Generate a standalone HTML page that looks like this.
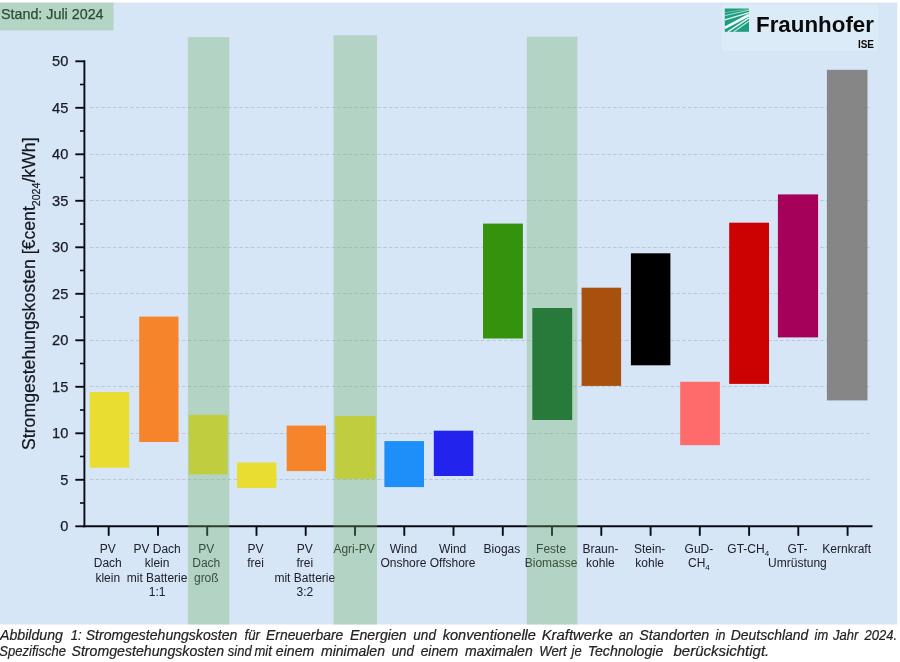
<!DOCTYPE html>
<html lang="de"><head><meta charset="utf-8"><title>Stromgestehungskosten</title>
<style>
html,body{margin:0;padding:0;background:#fff;}
body{width:900px;height:662px;overflow:hidden;position:relative;font-family:"Liberation Sans",sans-serif;}
svg{position:absolute;left:0;top:0;display:block;}
text{font-family:"Liberation Sans",sans-serif;}
</style></head><body>
<svg width="900" height="662" viewBox="0 0 900 662">
<rect x="0" y="0" width="900" height="662" fill="#ffffff"/>
<rect x="0" y="2.5" width="897.3" height="622" fill="#d6e6f6"/>

<rect x="0" y="2.7" width="113.6" height="27.8" fill="#b4d4c4"/>
<text x="1" y="19.4" font-size="14.3" fill="#2c4a3a" stroke="#2c4a3a" stroke-width="0.25">Stand: Juli 2024</text>
<rect x="722" y="5" width="156" height="46" fill="#dcebf8"/>
<line x1="90" x2="871" y1="479.5" y2="479.5" stroke="#bcc7d4" stroke-width="1" stroke-dasharray="3.4 2.35"/>
<line x1="90" x2="871" y1="433.5" y2="433.5" stroke="#bcc7d4" stroke-width="1" stroke-dasharray="3.4 2.35"/>
<line x1="90" x2="871" y1="386.5" y2="386.5" stroke="#bcc7d4" stroke-width="1" stroke-dasharray="3.4 2.35"/>
<line x1="90" x2="871" y1="340.5" y2="340.5" stroke="#bcc7d4" stroke-width="1" stroke-dasharray="3.4 2.35"/>
<line x1="90" x2="871" y1="293.5" y2="293.5" stroke="#bcc7d4" stroke-width="1" stroke-dasharray="3.4 2.35"/>
<line x1="90" x2="871" y1="247.5" y2="247.5" stroke="#bcc7d4" stroke-width="1" stroke-dasharray="3.4 2.35"/>
<line x1="90" x2="871" y1="200.5" y2="200.5" stroke="#bcc7d4" stroke-width="1" stroke-dasharray="3.4 2.35"/>
<line x1="90" x2="871" y1="154.5" y2="154.5" stroke="#bcc7d4" stroke-width="1" stroke-dasharray="3.4 2.35"/>
<line x1="90" x2="871" y1="107.5" y2="107.5" stroke="#bcc7d4" stroke-width="1" stroke-dasharray="3.4 2.35"/>
<rect x="89.7" y="392.1" width="39.5" height="75.6" fill="#e8dd30"/>
<rect x="139.2" y="316.6" width="39.3" height="125.4" fill="#f5842a"/>
<rect x="188.8" y="414.8" width="38.6" height="59.5" fill="#e8dd30"/>
<rect x="237.0" y="462.5" width="39.4" height="25.5" fill="#e8dd30"/>
<rect x="286.7" y="425.6" width="39.3" height="45.5" fill="#f5842a"/>
<rect x="335.1" y="416.0" width="40.5" height="62.9" fill="#e8dd30"/>
<rect x="384.4" y="441.1" width="39.6" height="46.0" fill="#1e8ef8"/>
<rect x="433.8" y="430.7" width="39.5" height="45.3" fill="#2323ee"/>
<rect x="483.0" y="223.6" width="39.9" height="114.9" fill="#35920c"/>
<rect x="532.3" y="308.0" width="39.9" height="112.0" fill="#056127"/>
<rect x="581.6" y="287.7" width="39.5" height="98.2" fill="#a8500e"/>
<rect x="630.9" y="253.3" width="39.5" height="112.0" fill="#000000"/>
<rect x="680.2" y="381.8" width="39.7" height="63.4" fill="#ff6b6b"/>
<rect x="729.2" y="222.7" width="39.8" height="161.2" fill="#cc0202"/>
<rect x="777.9" y="194.4" width="40.2" height="143.0" fill="#a5005a"/>
<rect x="826.9" y="69.8" width="40.6" height="330.6" fill="#868686"/>
<line x1="84.4" x2="84.4" y1="60.3" y2="527.3" stroke="#0a0a14" stroke-width="1.9"/>
<line x1="83.4" x2="872.5" y1="526.3" y2="526.3" stroke="#0a0a14" stroke-width="1.9"/>
<line x1="75.3" x2="84.4" y1="526.3" y2="526.3" stroke="#0a0a14" stroke-width="1.9"/>
<text x="68.3" y="531.0" font-size="14.6" text-anchor="end" fill="#1a1a24" stroke="#1a1a24" stroke-width="0.25">0</text>
<line x1="75.3" x2="84.4" y1="479.8" y2="479.8" stroke="#0a0a14" stroke-width="1.9"/>
<text x="68.3" y="484.5" font-size="14.6" text-anchor="end" fill="#1a1a24" stroke="#1a1a24" stroke-width="0.25">5</text>
<line x1="75.3" x2="84.4" y1="433.3" y2="433.3" stroke="#0a0a14" stroke-width="1.9"/>
<text x="68.3" y="438.0" font-size="14.6" text-anchor="end" fill="#1a1a24" stroke="#1a1a24" stroke-width="0.25">10</text>
<line x1="75.3" x2="84.4" y1="386.8" y2="386.8" stroke="#0a0a14" stroke-width="1.9"/>
<text x="68.3" y="391.5" font-size="14.6" text-anchor="end" fill="#1a1a24" stroke="#1a1a24" stroke-width="0.25">15</text>
<line x1="75.3" x2="84.4" y1="340.3" y2="340.3" stroke="#0a0a14" stroke-width="1.9"/>
<text x="68.3" y="345.0" font-size="14.6" text-anchor="end" fill="#1a1a24" stroke="#1a1a24" stroke-width="0.25">20</text>
<line x1="75.3" x2="84.4" y1="293.8" y2="293.8" stroke="#0a0a14" stroke-width="1.9"/>
<text x="68.3" y="298.5" font-size="14.6" text-anchor="end" fill="#1a1a24" stroke="#1a1a24" stroke-width="0.25">25</text>
<line x1="75.3" x2="84.4" y1="247.3" y2="247.3" stroke="#0a0a14" stroke-width="1.9"/>
<text x="68.3" y="252.0" font-size="14.6" text-anchor="end" fill="#1a1a24" stroke="#1a1a24" stroke-width="0.25">30</text>
<line x1="75.3" x2="84.4" y1="200.8" y2="200.8" stroke="#0a0a14" stroke-width="1.9"/>
<text x="68.3" y="205.5" font-size="14.6" text-anchor="end" fill="#1a1a24" stroke="#1a1a24" stroke-width="0.25">35</text>
<line x1="75.3" x2="84.4" y1="154.3" y2="154.3" stroke="#0a0a14" stroke-width="1.9"/>
<text x="68.3" y="159.0" font-size="14.6" text-anchor="end" fill="#1a1a24" stroke="#1a1a24" stroke-width="0.25">40</text>
<line x1="75.3" x2="84.4" y1="107.8" y2="107.8" stroke="#0a0a14" stroke-width="1.9"/>
<text x="68.3" y="112.5" font-size="14.6" text-anchor="end" fill="#1a1a24" stroke="#1a1a24" stroke-width="0.25">45</text>
<line x1="75.3" x2="84.4" y1="61.3" y2="61.3" stroke="#0a0a14" stroke-width="1.9"/>
<text x="68.3" y="66.0" font-size="14.6" text-anchor="end" fill="#1a1a24" stroke="#1a1a24" stroke-width="0.25">50</text>
<line x1="80" x2="84.4" y1="503.0" y2="503.0" stroke="#0a0a14" stroke-width="1.6"/>
<line x1="80" x2="84.4" y1="456.5" y2="456.5" stroke="#0a0a14" stroke-width="1.6"/>
<line x1="80" x2="84.4" y1="410.0" y2="410.0" stroke="#0a0a14" stroke-width="1.6"/>
<line x1="80" x2="84.4" y1="363.5" y2="363.5" stroke="#0a0a14" stroke-width="1.6"/>
<line x1="80" x2="84.4" y1="317.0" y2="317.0" stroke="#0a0a14" stroke-width="1.6"/>
<line x1="80" x2="84.4" y1="270.5" y2="270.5" stroke="#0a0a14" stroke-width="1.6"/>
<line x1="80" x2="84.4" y1="224.0" y2="224.0" stroke="#0a0a14" stroke-width="1.6"/>
<line x1="80" x2="84.4" y1="177.5" y2="177.5" stroke="#0a0a14" stroke-width="1.6"/>
<line x1="80" x2="84.4" y1="131.0" y2="131.0" stroke="#0a0a14" stroke-width="1.6"/>
<line x1="80" x2="84.4" y1="84.5" y2="84.5" stroke="#0a0a14" stroke-width="1.6"/>
<line x1="108.7" x2="108.7" y1="526.3" y2="535.8" stroke="#0a0a14" stroke-width="1.9"/>
<line x1="158.0" x2="158.0" y1="526.3" y2="535.8" stroke="#0a0a14" stroke-width="1.9"/>
<line x1="207.2" x2="207.2" y1="526.3" y2="535.8" stroke="#0a0a14" stroke-width="1.9"/>
<line x1="256.5" x2="256.5" y1="526.3" y2="535.8" stroke="#0a0a14" stroke-width="1.9"/>
<line x1="305.7" x2="305.7" y1="526.3" y2="535.8" stroke="#0a0a14" stroke-width="1.9"/>
<line x1="355.0" x2="355.0" y1="526.3" y2="535.8" stroke="#0a0a14" stroke-width="1.9"/>
<line x1="404.3" x2="404.3" y1="526.3" y2="535.8" stroke="#0a0a14" stroke-width="1.9"/>
<line x1="453.5" x2="453.5" y1="526.3" y2="535.8" stroke="#0a0a14" stroke-width="1.9"/>
<line x1="502.8" x2="502.8" y1="526.3" y2="535.8" stroke="#0a0a14" stroke-width="1.9"/>
<line x1="552.0" x2="552.0" y1="526.3" y2="535.8" stroke="#0a0a14" stroke-width="1.9"/>
<line x1="601.3" x2="601.3" y1="526.3" y2="535.8" stroke="#0a0a14" stroke-width="1.9"/>
<line x1="650.6" x2="650.6" y1="526.3" y2="535.8" stroke="#0a0a14" stroke-width="1.9"/>
<line x1="699.8" x2="699.8" y1="526.3" y2="535.8" stroke="#0a0a14" stroke-width="1.9"/>
<line x1="749.1" x2="749.1" y1="526.3" y2="535.8" stroke="#0a0a14" stroke-width="1.9"/>
<line x1="798.3" x2="798.3" y1="526.3" y2="535.8" stroke="#0a0a14" stroke-width="1.9"/>
<line x1="847.6" x2="847.6" y1="526.3" y2="535.8" stroke="#0a0a14" stroke-width="1.9"/>
<text x="107.8" y="552.7" font-size="12" text-anchor="middle" fill="#20202a">PV</text>
<text x="107.8" y="567.1" font-size="12" text-anchor="middle" fill="#20202a">Dach</text>
<text x="107.8" y="581.5" font-size="12" text-anchor="middle" fill="#20202a">klein</text>
<text x="157.1" y="552.7" font-size="12" text-anchor="middle" fill="#20202a">PV Dach</text>
<text x="157.1" y="567.1" font-size="12" text-anchor="middle" fill="#20202a">klein</text>
<text x="157.1" y="581.5" font-size="12" text-anchor="middle" fill="#20202a">mit Batterie</text>
<text x="157.1" y="595.9" font-size="12" text-anchor="middle" fill="#20202a">1:1</text>
<text x="206.3" y="552.7" font-size="12" text-anchor="middle" fill="#20202a">PV</text>
<text x="206.3" y="567.1" font-size="12" text-anchor="middle" fill="#20202a">Dach</text>
<text x="206.3" y="581.5" font-size="12" text-anchor="middle" fill="#20202a">groß</text>
<text x="255.6" y="552.7" font-size="12" text-anchor="middle" fill="#20202a">PV</text>
<text x="255.6" y="567.1" font-size="12" text-anchor="middle" fill="#20202a">frei</text>
<text x="304.8" y="552.7" font-size="12" text-anchor="middle" fill="#20202a">PV</text>
<text x="304.8" y="567.1" font-size="12" text-anchor="middle" fill="#20202a">frei</text>
<text x="304.8" y="581.5" font-size="12" text-anchor="middle" fill="#20202a">mit Batterie</text>
<text x="304.8" y="595.9" font-size="12" text-anchor="middle" fill="#20202a">3:2</text>
<text x="354.1" y="552.7" font-size="12" text-anchor="middle" fill="#20202a">Agri-PV</text>
<text x="403.4" y="552.7" font-size="12" text-anchor="middle" fill="#20202a">Wind</text>
<text x="403.4" y="567.1" font-size="12" text-anchor="middle" fill="#20202a">Onshore</text>
<text x="452.6" y="552.7" font-size="12" text-anchor="middle" fill="#20202a">Wind</text>
<text x="452.6" y="567.1" font-size="12" text-anchor="middle" fill="#20202a">Offshore</text>
<text x="501.9" y="552.7" font-size="12" text-anchor="middle" fill="#20202a">Biogas</text>
<text x="551.1" y="552.7" font-size="12" text-anchor="middle" fill="#20202a">Feste</text>
<text x="551.1" y="567.1" font-size="12" text-anchor="middle" fill="#20202a">Biomasse</text>
<text x="600.4" y="552.7" font-size="12" text-anchor="middle" fill="#20202a">Braun-</text>
<text x="600.4" y="567.1" font-size="12" text-anchor="middle" fill="#20202a">kohle</text>
<text x="649.7" y="552.7" font-size="12" text-anchor="middle" fill="#20202a">Stein-</text>
<text x="649.7" y="567.1" font-size="12" text-anchor="middle" fill="#20202a">kohle</text>
<text x="698.9" y="552.7" font-size="12" text-anchor="middle" fill="#20202a">GuD-</text>
<text x="698.9" y="567.1" font-size="12" text-anchor="middle" fill="#20202a">CH<tspan font-size="8" dy="3">4</tspan></text>
<text x="748.2" y="552.7" font-size="12" text-anchor="middle" fill="#20202a">GT-CH<tspan font-size="8" dy="3">4</tspan></text>
<text x="797.4" y="552.7" font-size="12" text-anchor="middle" fill="#20202a">GT-</text>
<text x="797.4" y="567.1" font-size="12" text-anchor="middle" fill="#20202a">Umrüstung</text>
<text x="846.7" y="552.7" font-size="12" text-anchor="middle" fill="#20202a">Kernkraft</text>
<text transform="translate(34.9,293.7) rotate(-90)" font-size="17.7" text-anchor="middle" fill="#16161e" stroke="#16161e" stroke-width="0.2">Stromgestehungskosten [€cent<tspan font-size="10.6" dy="4.6">2024</tspan><tspan dy="-4.6">/kWh]</tspan></text>
<rect x="187.9" y="37.1" width="41.4" height="587.4" fill="#6cac5d" fill-opacity="0.33"/>
<rect x="333.5" y="35.3" width="43.5" height="589.2" fill="#6cac5d" fill-opacity="0.33"/>
<rect x="526.8" y="36.7" width="50.6" height="587.8" fill="#6cac5d" fill-opacity="0.33"/>
<g id="logo">
<rect x="724.8" y="8.5" width="24.2" height="23.3" fill="#1d9d80"/>
<g stroke="#e6f6f0" fill="none" stroke-linecap="butt">
<path d="M724.8 27.8 L749 15" stroke-width="2.6" stroke="#f2fbf8"/>
<path d="M724.8 19.9 L749 12.6" stroke-width="1.3"/>
<path d="M724.8 15.6 L749 10.2" stroke-width="0.9" stroke-opacity="0.8"/>
<path d="M724.8 12.6 L749 8.9" stroke-width="0.6" stroke-opacity="0.6"/>
<path d="M727.8 31.8 L749 17.8" stroke-width="1.4"/>
<path d="M733.8 31.8 L749 21" stroke-width="1.1" stroke-opacity="0.85"/>
</g></g>
<text x="756" y="32" font-size="21.6" font-weight="bold" fill="#0a0a0a" textLength="118" lengthAdjust="spacingAndGlyphs">Fraunhofer</text>
<text x="874" y="48" font-size="10" font-weight="bold" fill="#0a0a0a" text-anchor="end">ISE</text>

<text y="639.8" font-size="14" font-style="italic" fill="#222222" stroke="#222222" stroke-width="0.2"><tspan x="0.0" textLength="63.0" lengthAdjust="spacingAndGlyphs">Abbildung</tspan> <tspan x="70.7" textLength="11.0" lengthAdjust="spacingAndGlyphs">1:</tspan> <tspan x="85.7" textLength="151.6" lengthAdjust="spacingAndGlyphs">Stromgestehungskosten</tspan> <tspan x="244.5" textLength="15.5" lengthAdjust="spacingAndGlyphs">für</tspan> <tspan x="266.0" textLength="77.3" lengthAdjust="spacingAndGlyphs">Erneuerbare</tspan> <tspan x="350.0" textLength="56.7" lengthAdjust="spacingAndGlyphs">Energien</tspan> <tspan x="413.3" textLength="22.7" lengthAdjust="spacingAndGlyphs">und</tspan> <tspan x="442.7" textLength="93.3" lengthAdjust="spacingAndGlyphs">konventionelle</tspan> <tspan x="541.7" textLength="71.0" lengthAdjust="spacingAndGlyphs">Kraftwerke</tspan> <tspan x="618.8" textLength="14.5" lengthAdjust="spacingAndGlyphs">an</tspan> <tspan x="639.3" textLength="70.0" lengthAdjust="spacingAndGlyphs">Standorten</tspan> <tspan x="715.4" textLength="10.1" lengthAdjust="spacingAndGlyphs">in</tspan> <tspan x="730.7" textLength="77.6" lengthAdjust="spacingAndGlyphs">Deutschland</tspan> <tspan x="814.5" textLength="13.7" lengthAdjust="spacingAndGlyphs">im</tspan> <tspan x="833.1" textLength="25.3" lengthAdjust="spacingAndGlyphs">Jahr</tspan> <tspan x="864.6" textLength="32.6" lengthAdjust="spacingAndGlyphs">2024.</tspan></text>
<text y="655.7" font-size="14" font-style="italic" fill="#222222" stroke="#222222" stroke-width="0.2"><tspan x="-0.7" textLength="66.6" lengthAdjust="spacingAndGlyphs">Spezifische</tspan> <tspan x="71.5" textLength="152.5" lengthAdjust="spacingAndGlyphs">Stromgestehungskosten</tspan> <tspan x="227.8" textLength="23.9" lengthAdjust="spacingAndGlyphs">sind</tspan> <tspan x="254.5" textLength="17.4" lengthAdjust="spacingAndGlyphs">mit</tspan> <tspan x="275.8" textLength="38.5" lengthAdjust="spacingAndGlyphs">einem</tspan> <tspan x="321.0" textLength="64.0" lengthAdjust="spacingAndGlyphs">minimalen</tspan> <tspan x="391.7" textLength="22.3" lengthAdjust="spacingAndGlyphs">und</tspan> <tspan x="420.7" textLength="37.6" lengthAdjust="spacingAndGlyphs">einem</tspan> <tspan x="465.0" textLength="67.7" lengthAdjust="spacingAndGlyphs">maximalen</tspan> <tspan x="539.3" textLength="27.4" lengthAdjust="spacingAndGlyphs">Wert</tspan> <tspan x="571.6" textLength="10.1" lengthAdjust="spacingAndGlyphs">je</tspan> <tspan x="587.7" textLength="75.6" lengthAdjust="spacingAndGlyphs">Technologie</tspan> <tspan x="673.5" textLength="95.7" lengthAdjust="spacingAndGlyphs">berücksichtigt.</tspan></text>
</svg></body></html>
